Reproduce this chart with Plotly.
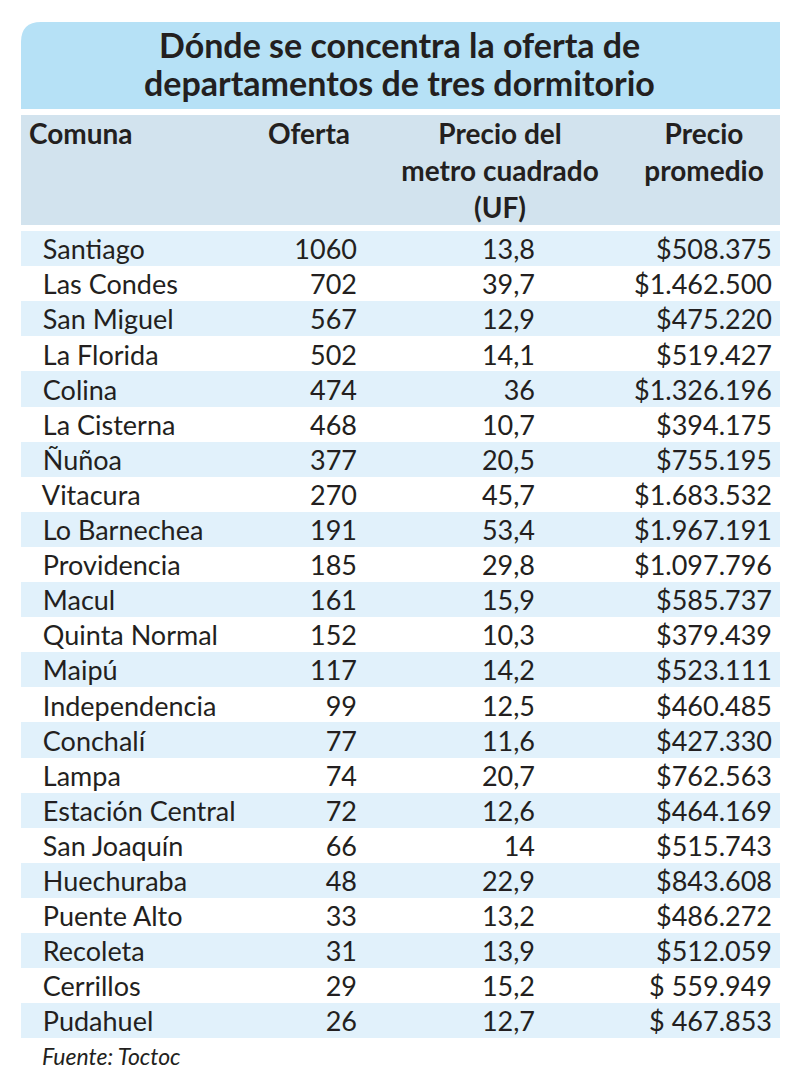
import plotly.graph_objects as go

W, H = 800, 1087

title_lines = ["Dónde se concentra la oferta de", "departamentos de tres dormitorio"]
col_headers = [["Comuna", "", ""],
               ["Oferta", "", ""],
               ["Precio del", "metro cuadrado", "(UF)"],
               ["Precio", "promedio", ""]]
comunas = ["Santiago", "Las Condes", "San Miguel", "La Florida", "Colina", "La Cisterna",
           "Ñuñoa", "Vitacura", "Lo Barnechea", "Providencia", "Macul", "Quinta Normal",
           "Maipú", "Independencia", "Conchalí", "Lampa", "Estación Central", "San Joaquín",
           "Huechuraba", "Puente Alto", "Recoleta", "Cerrillos", "Pudahuel"]
oferta = [1060, 702, 567, 502, 474, 468, 377, 270, 191, 185, 161, 152, 117, 99, 77, 74,
          72, 66, 48, 33, 31, 29, 26]
precio_m2 = ["13,8", "39,7", "12,9", "14,1", "36", "10,7", "20,5", "45,7", "53,4", "29,8",
             "15,9", "10,3", "14,2", "12,5", "11,6", "20,7", "12,6", "14", "22,9", "13,2",
             "13,9", "15,2", "12,7"]
precio_prom = ["$508.375", "$1.462.500", "$475.220", "$519.427", "$1.326.196", "$394.175",
               "$755.195", "$1.683.532", "$1.967.191", "$1.097.796", "$585.737", "$379.439",
               "$523.111", "$460.485", "$427.330", "$762.563", "$464.169", "$515.743",
               "$843.608", "$486.272", "$512.059", "$ 559.949", "$ 467.853"]
source = "Fuente: Toctoc"

FONT = "Lato"
TXT = "#231f20"
TITLE_BG = "#b6e1f6"
HEAD_BG = "#d2e3ee"
STRIPE = "#e1f1fb"
NB = "\u00a0"

def px(x):
    return x / W

def py(y):
    return 1 - y / H

n = len(comunas)
row_fill = [STRIPE if i % 2 == 0 else "white" for i in range(n)]
name_cells = [NB + NB + c.replace(" ", NB) for c in comunas]
prom_cells = [p.replace(" ", NB) for p in precio_prom]

fig = go.Figure()

# header-only table
fig.add_trace(go.Table(
    domain=dict(x=[px(21), px(780)], y=[py(226), py(115)]),
    columnwidth=[225, 126, 256, 152],
    header=dict(values=col_headers, height=37,
                fill_color=HEAD_BG, line=dict(color=HEAD_BG, width=0),
                align=["left", "center", "center", "center"],
                font=dict(family=FONT, size=28, color=TXT, weight="bold")),
    cells=dict(values=[[], [], [], []]),
))

# body table
fig.add_trace(go.Table(
    domain=dict(x=[px(21), px(780)], y=[py(1050), py(230)]),
    columnwidth=[229, 115, 178, 237],
    header=dict(values=["", "", "", ""], height=1, fill_color="white",
                line=dict(color="white", width=0)),
    cells=dict(values=[name_cells, oferta, precio_m2, prom_cells],
               height=35.1,
               fill_color=[row_fill] * 4,
               line=dict(color="rgba(0,0,0,0)", width=0),
               align=["left", "right", "right", "right"],
               font=dict(family=FONT, size=27, color=TXT)),
))

# title band with rounded top-left corner
r = 20
x0, x1, y0, y1 = px(21), px(780), py(22), py(109)
rx, ry = r / W, r / H
path = (f"M {x0},{y1} L {x0},{y0 - ry} Q {x0},{y0} {x0 + rx},{y0} "
        f"L {x1},{y0} L {x1},{y1} Z")
fig.add_shape(type="path", path=path, xref="paper", yref="paper",
              fillcolor=TITLE_BG, line=dict(width=0), layer="below")

for line, yc in zip(title_lines, [44, 82]):
    fig.add_annotation(x=px(399), y=py(yc), xref="paper", yref="paper",
                       text=line, showarrow=False,
                       xanchor="center", yanchor="middle",
                       font=dict(family=FONT, size=34, color=TXT, weight="bold"))

fig.add_annotation(x=px(40), y=py(1056), xref="paper", yref="paper",
                   text=source, showarrow=False, xanchor="left", yanchor="middle",
                   font=dict(family=FONT, size=23, color=TXT, style="italic"))

fig.update_layout(width=W, height=H, margin=dict(l=0, r=0, t=0, b=0),
                  paper_bgcolor="white", plot_bgcolor="white")

fig.write_html("out.html", config={"displayModeBar": False},
               post_script="document.body.style.margin='0';")
